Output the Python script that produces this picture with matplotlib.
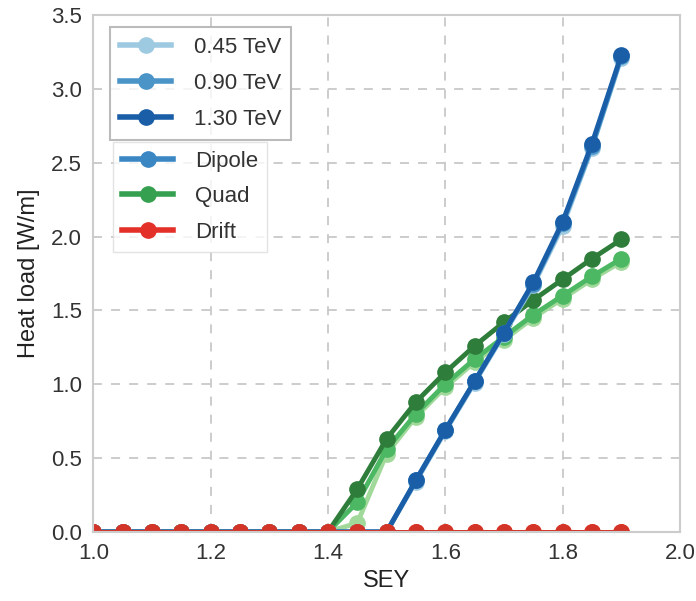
import numpy as np
import matplotlib
matplotlib.use('Agg')
from matplotlib import pyplot as plt
from matplotlib.lines import Line2D

plt.rcParams['font.family'] = ['Liberation Sans', 'DejaVu Sans']

sey = [1.00, 1.05, 1.10, 1.15, 1.20, 1.25, 1.30, 1.35, 1.40, 1.45,
       1.50, 1.55, 1.60, 1.65, 1.70, 1.75, 1.80, 1.85, 1.90]
energies = ['0.45 TeV', '0.90 TeV', '1.30 TeV']

dipole_045 = [0, 0, 0, 0, 0, 0, 0, 0, 0, 0, 0, 0.34, 0.68, 1.01, 1.34, 1.67, 2.07, 2.60, 3.21]
dipole_090 = [0, 0, 0, 0, 0, 0, 0, 0, 0, 0, 0, 0.35, 0.69, 1.02, 1.35, 1.68, 2.09, 2.61, 3.22]
dipole_130 = [0, 0, 0, 0, 0, 0, 0, 0, 0, 0, 0, 0.35, 0.69, 1.02, 1.35, 1.69, 2.10, 2.63, 3.23]

quad_045 = [0, 0, 0, 0, 0, 0, 0, 0, 0, 0.06, 0.53, 0.78, 0.98, 1.15, 1.30, 1.45, 1.58, 1.71, 1.83]
quad_090 = [0, 0, 0, 0, 0, 0, 0, 0, 0, 0.20, 0.56, 0.80, 1.00, 1.17, 1.32, 1.47, 1.60, 1.73, 1.85]
quad_130 = [0, 0, 0, 0, 0, 0, 0, 0, 0, 0.29, 0.63, 0.88, 1.08, 1.26, 1.42, 1.57, 1.71, 1.85, 1.98]

drift_045 = [0] * 19
drift_090 = [0] * 19
drift_130 = [0] * 19

blues = ['#9ecae1', '#4a94c8', '#1a5ea8']
greens = ['#a1d99b', '#4cb863', '#2f7d3a']
reds = ['#fc9272', '#ef3b2c', '#d23427']

fig = plt.figure(figsize=(6.96, 6.01), dpi=100)
ax = fig.add_axes([0.134, 0.115, 0.843, 0.86])

kw = dict(marker='o', lw=3.5, ms=11)
for vals, c in zip([quad_045, quad_090, quad_130], greens):
    ax.plot(sey, vals, color=c, **kw)
for vals, c in zip([dipole_045, dipole_090, dipole_130], blues):
    ax.plot(sey, vals, color=c, **kw)
for vals, c in zip([drift_045, drift_090, drift_130], reds):
    ax.plot(sey, vals, color=c, **kw)

ax.set_xlim(1.0, 2.0)
ax.set_ylim(0, 3.5)
ax.set_xticks(np.arange(1.0, 2.01, 0.2))
ax.set_yticks(np.arange(0, 3.51, 0.5))
ax.xaxis.set_major_formatter(matplotlib.ticker.FormatStrFormatter('%.1f'))
ax.yaxis.set_major_formatter(matplotlib.ticker.FormatStrFormatter('%.1f'))
ax.tick_params(labelsize=16, colors='#333333', length=0, pad=8)
ax.set_xlabel('SEY', fontsize=17, color='#222222', labelpad=4)
ax.set_ylabel('Heat load [W/m]', fontsize=17, color='#222222', labelpad=8)
ax.grid(True, ls='--', color='#c8c8c8', lw=1.3, dashes=(5, 5))
for s in ax.spines.values():
    s.set_color('#cccccc')
    s.set_linewidth(1.5)

h1 = [Line2D([], [], color=c, marker='o', lw=4, ms=11) for c in blues]
leg1 = ax.legend(h1, energies, loc='upper left', bbox_to_anchor=(0.01, 0.999),
                 fontsize=16, frameon=True, fancybox=False, edgecolor='#aaaaaa',
                 handlelength=2.3, handletextpad=1.0, labelspacing=0.68,
                 borderpad=0.45)
leg1.get_frame().set_linewidth(1.5)
for t in leg1.get_texts():
    t.set_color('#333333')
ax.add_artist(leg1)

h2 = [Line2D([], [], color=c, marker='o', lw=4, ms=11)
      for c in ['#3a87c4', '#35a04f', '#e3312a']]
leg2 = ax.legend(h2, ['Dipole', 'Quad', 'Drift'], loc='upper left',
                 bbox_to_anchor=(0.015, 0.776), fontsize=16, frameon=True,
                 fancybox=False, edgecolor='#dddddd', handlelength=2.3,
                 handletextpad=1.0, labelspacing=0.65, borderpad=0.4)
for t in leg2.get_texts():
    t.set_color('#333333')

fig.savefig('out.png', dpi=100, facecolor='white')
